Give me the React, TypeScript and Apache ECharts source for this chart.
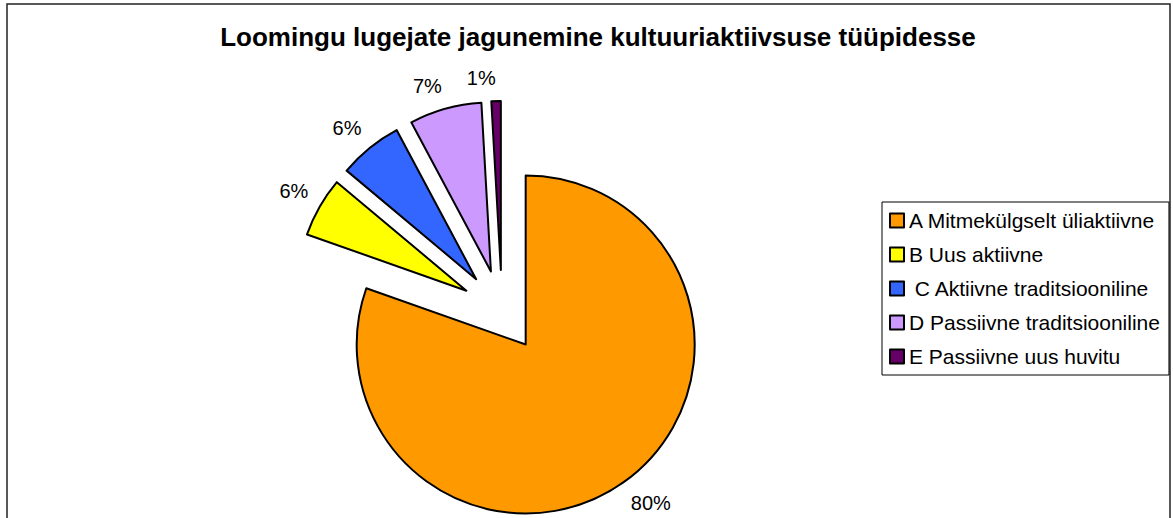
import React, { useEffect, useRef } from "react";
import * as echarts from "echarts";

const categories = [
  "A Mitmekülgselt üliaktiivne",
  "B Uus aktiivne",
  " C Aktiivne traditsiooniline",
  "D Passiivne traditsiooniline",
  "E Passiivne uus huvitu",
];
const values = [80.4, 5.7, 6.1, 6.9, 0.9];
const colors = ["#FF9900", "#FFFF00", "#3366FF", "#CC99FF", "#660066"];
const titleText = "Loomingu lugejate jagunemine kultuuriaktiivsuse tüüpidesse";

const FONT = "'Liberation Sans', Arial, sans-serif";

export default function App() {
  const ref = useRef<HTMLDivElement>(null);
  useEffect(() => {
    const chart = echarts.init(ref.current!, null, { renderer: "svg" });
    const total = values.reduce((a, b) => a + b, 0);
    chart.setOption({
      animation: false,
      backgroundColor: "#ffffff",
      textStyle: { fontFamily: FONT },
      title: {
        text: titleText,
        left: 593,
        top: 19,
        textAlign: "center",
        textStyle: { fontSize: 26, fontWeight: "bold", color: "#000", fontFamily: FONT },
      },
      legend: {
        orient: "vertical",
        left: 882,
        top: 202,
        padding: [8, 9, 8, 7],
        itemGap: 13,
        itemWidth: 14,
        itemHeight: 14,
        icon: "rect",
        borderColor: "#000",
        borderWidth: 1,
        selectedMode: false,
        textStyle: { fontSize: 21, color: "#000", fontFamily: FONT },
        itemStyle: { borderColor: "#000", borderWidth: 2 },
        data: categories,
      },
      graphic: [
        {
          type: "rect",
          silent: true,
          z: -1,
          shape: { x: 7, y: 4, width: 1163, height: 600 },
          style: { fill: "none", stroke: "#222", lineWidth: 1.5 },
        },
      ],
      series: [
        {
          type: "pie",
          center: [502, 311],
          radius: 169,
          startAngle: 90,
          clockwise: true,
          selectedMode: "multiple",
          selectedOffset: 41,
          avoidLabelOverlap: false,
          emphasis: { disabled: true },
          itemStyle: { borderColor: "#000", borderWidth: 2 },
          label: {
            position: "outside",
            formatter: (p: any) => Math.round((p.value / total) * 100) + "%",
            fontSize: 20,
            color: "#000",
            fontFamily: FONT,
            distanceToLabelLine: 0,
          },
          labelLine: { show: false, length: 13, length2: 0 },
          labelLayout: (p: any) => ({ verticalAlign: p.dataIndex === 0 ? "top" : "bottom" }),
          data: categories.map((name, i) => ({
            name,
            value: values[i],
            selected: true,
            itemStyle: { color: colors[i] },
          })),
        },
      ],
    });
    return () => chart.dispose();
  }, []);
  return (
    <div
      ref={ref}
      style={{ position: "absolute", left: 0, top: 0, width: 1173, height: 518 }}
    />
  );
}
